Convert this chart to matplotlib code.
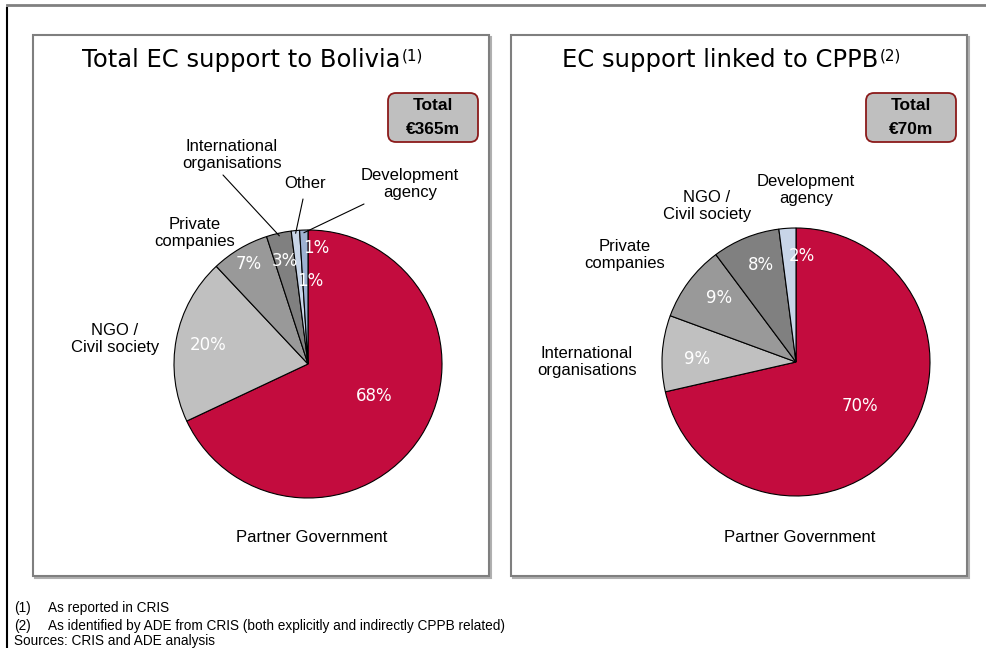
import numpy as np
import matplotlib.pyplot as plt
from matplotlib.patches import Rectangle, FancyBboxPatch

# shares (%) clockwise from 12 o'clock
left_labels = ['Partner Government', 'NGO /\nCivil society', 'Private\ncompanies',
               'International\norganisations', 'Other', 'Development\nagency']
left_values = [68, 20, 7, 3, 1, 1]
left_total = '€365m'

right_labels = ['Partner Government', 'International\norganisations', 'Private\ncompanies',
                'NGO /\nCivil society', 'Development\nagency']
right_values = [70, 9, 9, 8, 2]
right_total = '€70m'

RED = '#C30C3E'
left_colors = [RED, '#C0C0C0', '#999999', '#808080', '#C8D5E8', '#9DB2D2']
right_colors = [RED, '#C0C0C0', '#999999', '#808080', '#C8D5E8']

W, H = 986, 648
fig = plt.figure(figsize=(W / 100, H / 100), dpi=100)
bg = fig.add_axes([0, 0, 1, 1])
bg.set_xlim(0, W)
bg.set_ylim(H, 0)
bg.axis('off')

LAB = dict(family='Liberation Sans', fontsize=12, color='black', ha='center', va='center',
           linespacing=1.1)
PCT = dict(family='DejaVu Sans', fontsize=12, color='white', ha='center', va='center')

# outer frame
bg.plot([7, 7], [8, H], color='black', lw=1.5)
bg.plot([7, W], [5, 5], color='#808080', lw=2)

# panel frames
for x0 in (33, 511):
    bg.add_patch(Rectangle((x0 + 2, 37), 456, 541, fc='none', ec='#B0B0B0', lw=1.5))
    bg.add_patch(Rectangle((x0, 35), 456, 541, fc='white', ec='#7F7F7F', lw=1.5))


def pie_axes(cx, cy, r):
    return fig.add_axes([(cx - r) / W, (H - cy - r) / H, 2 * r / W, 2 * r / H])


def draw_pie(ax, values, colors, pct_pos):
    wedges, _ = ax.pie(values, colors=colors, startangle=90, counterclock=False,
                       radius=1, wedgeprops=dict(edgecolor='black', linewidth=0.8))
    ax.set_xlim(-1, 1)
    ax.set_ylim(-1, 1)
    for w, v, (r, dt) in zip(wedges, values, pct_pos):
        a = np.deg2rad((w.theta1 + w.theta2) / 2 + dt)
        ax.text(r * np.cos(a), r * np.sin(a), f'{v}%', **PCT)
    return wedges


def leader(ax, wedge, xytext, r=0.98):
    a = np.deg2rad((wedge.theta1 + wedge.theta2) / 2)
    ax.annotate('', xy=(r * np.cos(a), r * np.sin(a)), xycoords='data',
                xytext=xytext, textcoords=bg.transData,
                arrowprops=dict(arrowstyle='-', lw=0.8, color='black',
                                shrinkA=0, shrinkB=0))


def title(x, y, main, sup):
    t = bg.text(x, y, main, family='DejaVu Sans', fontsize=17.5, ha='left', va='center')
    bg.annotate(sup, xy=(1.0, 0.97), xycoords=t, xytext=(1, 0), textcoords='offset points',
                family='DejaVu Sans', fontsize=11, ha='left', va='top')


def total_box(x0, y0, value):
    bg.add_patch(FancyBboxPatch((x0, y0), 90, 49, boxstyle='round,pad=0,rounding_size=8',
                                fc='#BFBFBF', ec='#8B1A1A', lw=1.3))
    bg.text(x0 + 45, y0 + 13, 'Total', family='Liberation Sans', fontsize=12.5,
            weight='bold', ha='center', va='center')
    bg.text(x0 + 45, y0 + 36, value, family='Liberation Sans', fontsize=12.5,
            weight='bold', ha='center', va='center')


# left: total EC support
axl = pie_axes(308, 364, 134)
wl = draw_pie(axl, left_values, left_colors,
              [(0.55, 7), (0.76, 0), (0.87, 0), (0.79, 0), (0.62, -7), (0.87, -6)])
title(82, 60, 'Total EC support to Bolivia', '(1)')
total_box(388, 93, left_total)
left_pos = [(312, 537), (115, 339), (195, 233), (232, 155), (305, 184), (410, 184)]
for lab, (x, y) in zip(left_labels, left_pos):
    bg.text(x, y, lab, **LAB)
leader(axl, wl[3], (223, 175))
leader(axl, wl[4], (303, 199))
leader(axl, wl[5], (364, 204))

# right: support linked to CPPB
axr = pie_axes(796, 362, 134)
draw_pie(axr, right_values, right_colors,
         [(0.58, 4), (0.74, 2), (0.75, -3), (0.77, -2), (0.79, -7)])
title(562, 60, 'EC support linked to CPPB', '(2)')
total_box(866, 93, right_total)
right_pos = [(800, 537), (587, 362), (625, 255), (707, 206), (806, 190)]
for lab, (x, y) in zip(right_labels, right_pos):
    bg.text(x, y, lab, **LAB)

# footnotes
FN = dict(family='Liberation Sans', fontsize=9.8, ha='left', va='center')
bg.text(14, 608, '(1)', **FN)
bg.text(48, 608, 'As reported in CRIS', **FN)
bg.text(14, 626, '(2)', **FN)
bg.text(48, 626, 'As identified by ADE from CRIS (both explicitly and indirectly CPPB related)', **FN)
bg.text(14, 641, 'Sources: CRIS and ADE analysis', **FN)

fig.savefig('out.png', dpi=100)
